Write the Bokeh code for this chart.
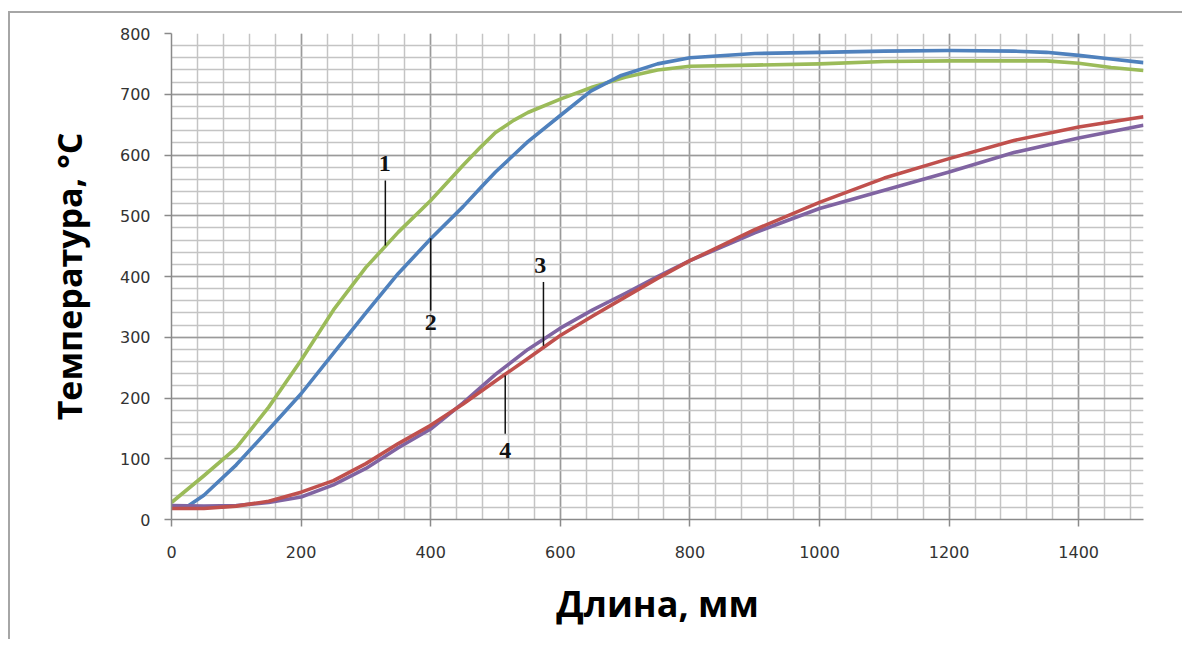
from bokeh.plotting import figure
from bokeh.models import FixedTicker, Range1d
from bokeh.core.properties import value
from bokeh.embed import file_html
from bokeh.resources import INLINE

# ---- data ----
x1 = [0, 50, 100, 150, 200, 250, 300, 350, 400, 450, 477, 500, 528, 550, 600, 650, 700, 750, 800, 900, 1000, 1100, 1200, 1300, 1350, 1400, 1450, 1500]
t1 = [28, 72, 118, 185, 262, 345, 415, 473, 525, 583, 613, 637, 657, 670, 692, 712, 728, 740, 746, 748, 750, 754, 755, 755, 755, 751, 744, 739]

x2 = [0, 25, 50, 100, 150, 200, 250, 300, 350, 400, 450, 477, 500, 528, 550, 600, 647, 694, 750, 800, 900, 1000, 1100, 1200, 1300, 1350, 1400, 1450, 1500]
t2 = [22, 22, 40, 90, 148, 207, 274, 340, 405, 462, 515, 546, 572, 600, 622, 665, 705, 731, 750, 760, 767, 769, 771, 772, 771, 769, 764, 758, 752]

x3 = [0, 50, 100, 150, 200, 250, 300, 350, 400, 450, 500, 550, 600, 650, 700, 750, 800, 900, 1000, 1100, 1200, 1300, 1400, 1500]
t3 = [23, 22, 23, 28, 37, 57, 84, 118, 149, 192, 239, 280, 315, 345, 372, 400, 426, 472, 512, 542, 572, 604, 628, 649]

x4 = [0, 50, 100, 150, 200, 250, 300, 350, 400, 450, 500, 550, 600, 650, 700, 750, 800, 900, 1000, 1100, 1200, 1300, 1400, 1500]
t4 = [18, 18, 22, 30, 45, 64, 92, 125, 155, 190, 228, 265, 303, 335, 366, 397, 426, 477, 522, 562, 594, 624, 646, 663]

series_x = [x1, x2, x3, x4]
series_t = [t1, t2, t3, t4]
colors = ["#9bbb59", "#4f81bd", "#8064a2", "#c0504d"]

# curve number labels: text position and leader line (x, top, bottom)
label_text = ["1", "2", "3", "4"]
label_x = [329, 400, 569, 515]
label_y = [586, 324, 418, 113]
leader_x = [330, 400, 574, 515]
leader_top = [558, 463, 391, 237]
leader_bottom = [451, 344, 286, 141]

x_major = [0, 200, 400, 600, 800, 1000, 1200, 1400]
x_minor = list(range(0, 1500, 40))
y_major = [0, 100, 200, 300, 400, 500, 600, 700, 800]
y_minor = list(range(0, 801, 20))

x_title = "Длина, мм"
y_title = "Температура, °С"

p = figure(frame_width=972, frame_height=486,
           min_border_left=161, min_border_right=39, min_border_top=20, min_border_bottom=120,
           x_range=Range1d(0, 1500), y_range=Range1d(0, 800),
           output_backend="svg", toolbar_location=None)
p.styles = {"border-left": "2px solid #a6a6a6", "border-top": "2px solid #a6a6a6",
            "margin-top": "11px", "margin-left": "8px"}
p.outline_line_color = None
p.background_fill_color = "white"
p.border_fill_color = "white"

p.xaxis.ticker = FixedTicker(ticks=x_major, minor_ticks=x_minor)
p.yaxis.ticker = FixedTicker(ticks=y_major, minor_ticks=y_minor)

for g in (p.xgrid, p.ygrid):
    g.grid_line_color = "#9a9a9a"
    g.grid_line_width = 1.5
    g.minor_grid_line_color = "#c4c4c4"
    g.minor_grid_line_width = 1.5

for ax in (p.xaxis, p.yaxis):
    ax.axis_line_color = "#8a8a8a"
    ax.axis_line_width = 1.5
    ax.major_tick_line_color = "#8a8a8a"
    ax.major_tick_line_width = 1.5
    ax.major_tick_in = 0
    ax.major_tick_out = 7
    ax.minor_tick_out = 0
    ax.minor_tick_in = 0
    ax.major_label_text_font = "DejaVu Sans"
    ax.major_label_text_font_size = "16px"
    ax.major_label_text_color = "#333333"
    ax.axis_label_text_font = "Open Sans"
    ax.axis_label_text_font_style = "bold"
    ax.axis_label_text_color = "#000000"

p.xaxis.axis_label_text_font_size = "36px"
p.yaxis.axis_label_text_font_size = "34px"
p.xaxis.major_label_standoff = 19
p.yaxis.major_label_standoff = 14
p.xaxis.axis_label = x_title
p.yaxis.axis_label = y_title
p.xaxis.axis_label_standoff = 18
p.yaxis.axis_label_standoff = 25

for xs, ts, c in zip(series_x, series_t, colors):
    p.line(xs, ts, line_color=c, line_width=3.6, line_join="round")

p.segment(x0=leader_x, y0=leader_top, x1=leader_x, y1=leader_bottom,
          line_color="#111111", line_width=1.5)
p.text(x=label_x, y=label_y, text=label_text, text_font=value("Liberation Serif"),
       text_font_style="bold", text_font_size="24px", text_align="center",
       text_baseline="middle", text_color="#111111")

open("out.html", "w").write(file_html(p, INLINE))
